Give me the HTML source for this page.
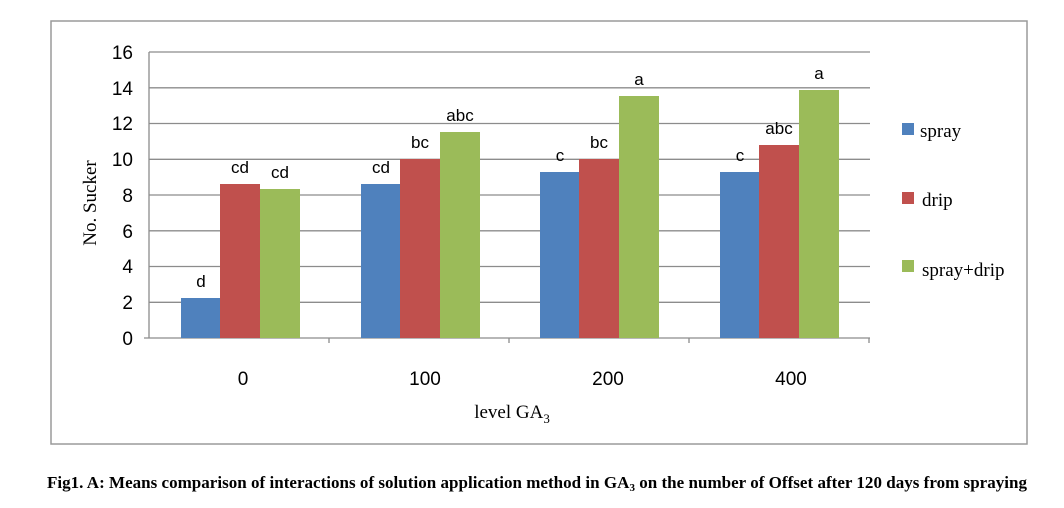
<!DOCTYPE html>
<html><head><style>body{margin:0;background:#fff}</style></head><body>
<svg width="1064" height="503" xmlns="http://www.w3.org/2000/svg">
<rect x="51" y="21" width="976" height="423" fill="#fff" stroke="#9a9a9a" stroke-width="1.5"/>
<g stroke="#8c8c8c" stroke-width="1.3">
<line x1="149" y1="52" x2="870" y2="52"/><line x1="149" y1="87.8" x2="870" y2="87.8"/>
<line x1="149" y1="123.5" x2="870" y2="123.5"/><line x1="149" y1="159.3" x2="870" y2="159.3"/>
<line x1="149" y1="195" x2="870" y2="195"/><line x1="149" y1="230.8" x2="870" y2="230.8"/>
<line x1="149" y1="266.5" x2="870" y2="266.5"/><line x1="149" y1="302.3" x2="870" y2="302.3"/>
<line x1="149" y1="52" x2="149" y2="338"/><line x1="144" y1="338" x2="870" y2="338"/>
<line x1="329" y1="338" x2="329" y2="343"/><line x1="509" y1="338" x2="509" y2="343"/><line x1="689" y1="338" x2="689" y2="343"/><line x1="869" y1="338" x2="869" y2="343"/>
</g>
<g font-family="Liberation Sans, sans-serif" font-size="19" text-anchor="end" fill="#000">
<text x="133" y="59">16</text><text x="133" y="95">14</text><text x="133" y="130">12</text><text x="133" y="166">10</text>
<text x="133" y="202">8</text><text x="133" y="238">6</text><text x="133" y="273">4</text><text x="133" y="309">2</text><text x="133" y="345">0</text>
</g>
<g font-family="Liberation Sans, sans-serif" font-size="19" text-anchor="middle">
<text x="243" y="385">0</text><text x="425" y="385">100</text><text x="608" y="385">200</text><text x="791" y="385">400</text>
</g>
<text transform="translate(96,203) rotate(-90)" font-family="Liberation Serif, serif" font-size="19" text-anchor="middle">No. Sucker</text>
<text x="512" y="418" font-family="Liberation Serif, serif" font-size="19" text-anchor="middle">level GA<tspan font-size="13" dy="5">3</tspan></text>
<g>
<rect x="181" y="298" width="39" height="40" fill="#4f81bd"/><rect x="220" y="184" width="40" height="154" fill="#c0504d"/><rect x="260" y="189" width="40" height="149" fill="#9bbb59"/>
<rect x="361" y="184" width="39" height="154" fill="#4f81bd"/><rect x="400" y="159" width="40" height="179" fill="#c0504d"/><rect x="440" y="132" width="40" height="206" fill="#9bbb59"/>
<rect x="540" y="172" width="39" height="166" fill="#4f81bd"/><rect x="579" y="159" width="40" height="179" fill="#c0504d"/><rect x="619" y="96" width="40" height="242" fill="#9bbb59"/>
<rect x="720" y="172" width="39" height="166" fill="#4f81bd"/><rect x="759" y="145" width="40" height="193" fill="#c0504d"/><rect x="799" y="90" width="40" height="248" fill="#9bbb59"/>
</g>
<g font-family="Liberation Sans, sans-serif" font-size="17" text-anchor="middle">
<text x="201" y="287">d</text><text x="240" y="173">cd</text><text x="280" y="178">cd</text>
<text x="381" y="173">cd</text><text x="420" y="148">bc</text><text x="460" y="121">abc</text>
<text x="560" y="161">c</text><text x="599" y="148">bc</text><text x="639" y="85">a</text>
<text x="740" y="161">c</text><text x="779" y="134">abc</text><text x="819" y="79">a</text>
</g>
<rect x="902" y="123" width="12" height="12" fill="#4f81bd"/>
<rect x="902" y="192" width="12" height="12" fill="#c0504d"/>
<rect x="902" y="260" width="12" height="12" fill="#9bbb59"/>
<g font-family="Liberation Serif, serif" font-size="19">
<text x="920" y="137">spray</text><text x="922" y="206">drip</text><text x="922" y="276">spray+drip</text>
</g>
<text x="47" y="488" font-family="Liberation Serif, serif" font-size="17" font-weight="bold" textLength="980" lengthAdjust="spacing">Fig1. A: Means comparison of interactions of solution application method in GA<tspan font-size="11" dy="3">3</tspan><tspan dy="-3"> on the number of Offset after 120 days from spraying</tspan></text>
</svg>
</body></html>
